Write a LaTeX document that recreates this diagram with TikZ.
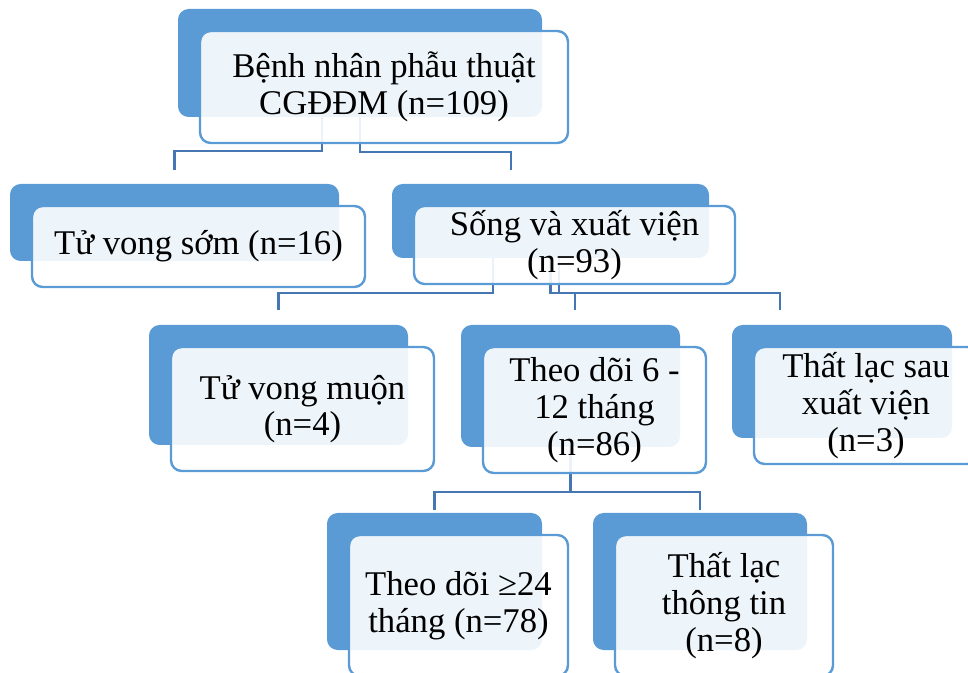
\documentclass[tikz,border=0pt]{standalone}
\usepackage{fontspec}
\setmainfont{Liberation Serif}
\usetikzlibrary{calc}

\definecolor{accent}{HTML}{5B9BD5}
\definecolor{linkblue}{HTML}{4677B2}

\tikzset{
    backbox/.style={rectangle, rounded corners=8pt, fill=accent},
    frontbox/.style={rectangle, rounded corners=8pt, draw=accent, line width=1.8pt,
        fill=white, fill opacity=0.9, text opacity=1, align=center,
        font=\fontsize{26}{27.5}\selectfont},
    link/.style={draw=linkblue, line width=1.8pt}
}

\begin{document}
\begin{tikzpicture}[x=0.75pt, y=-0.75pt]
    \useasboundingbox (0,0) rectangle (968,673);
    \clip (0,0) rectangle (968,673);

    % Back shapes
    \node[backbox, minimum width=273pt, minimum height=81pt] (surgbg) at (360,63) {};
    \node[backbox, minimum width=246.75pt, minimum height=57.75pt] (earlybg) at (174.5,222.5) {};
    \node[backbox, minimum width=237.75pt, minimum height=55.5pt] (alivebg) at (550.5,221) {};
    \node[backbox, minimum width=194.25pt, minimum height=90pt] (latebg) at (278.5,385) {};
    \node[backbox, minimum width=164.25pt, minimum height=91.5pt] (followbg) at (570.5,386) {};
    \node[backbox, minimum width=165pt, minimum height=84.75pt] (lostabg) at (842,381.5) {};
    \node[backbox, minimum width=161.25pt, minimum height=102.75pt] (longbg) at (434.5,581.5) {};
    \node[backbox, minimum width=160.5pt, minimum height=102.75pt] (lostbbg) at (700,581.5) {};

    % Connectors
    \draw[link] ($(surgbg.south)+(-38,0)$) -- ++(0,34) -| ($(earlybg.north)+(0,-14)$);
    \draw[link] (surgbg.south) -- ++(0,35) -| ($(alivebg.north)+(-39.5,-14)$);
    \draw[link] ($(alivebg.south)+(-57.5,0)$) -- ++(0,35) -| ($(latebg.north)+(0,-15)$);
    \draw[link] (alivebg.south) -- ++(0,35) -| ($(followbg.north)+(4.5,-15)$);
    \draw[link] ($(alivebg.south)+(8.5,0)$) -- ++(0,35) -| ($(lostabg.north)+(-62,-15)$);
    \draw[link] (followbg.south) -- ++(0,45) -| ($(longbg.north)+(0,-3)$);
    \draw[link] (followbg.south) -- ++(0,45) -| ($(lostbbg.north)+(0,-3)$);

    % Text boxes
    \node[frontbox, minimum width=276pt, minimum height=84pt] (surg) at ($(surgbg)+(24,24)$)
        {Bệnh nhân phẫu thuật\\CGĐĐM (n=109)};
    \node[frontbox, minimum width=249.75pt, minimum height=60.75pt] (early) at ($(earlybg)+(24,24)$)
        {Tử vong sớm (n=16)};
    \node[frontbox, minimum width=240.75pt, minimum height=58.5pt] (alive) at ($(alivebg)+(24,24)$)
        {Sống và xuất viện\\(n=93)};
    \node[frontbox, minimum width=197.25pt, minimum height=93pt] (late) at ($(latebg)+(24,24)$)
        {Tử vong muộn\\(n=4)};
    \node[frontbox, minimum width=167.25pt, minimum height=94.5pt] (follow) at ($(followbg)+(24,24)$)
        {Theo dõi 6 -\\12 tháng\\(n=86)};
    \node[frontbox, minimum width=168pt, minimum height=87.75pt] (losta) at ($(lostabg)+(24,24)$)
        {Thất lạc sau\\xuất viện\\(n=3)};
    \node[frontbox, minimum width=164.25pt, minimum height=105.75pt] (long) at ($(longbg)+(24,24)$)
        {Theo dõi ≥24\\tháng (n=78)};
    \node[frontbox, minimum width=163.5pt, minimum height=105.75pt] (lostb) at ($(lostbbg)+(24,24)$)
        {Thất lạc\\thông tin\\(n=8)};
\end{tikzpicture}
\end{document}
